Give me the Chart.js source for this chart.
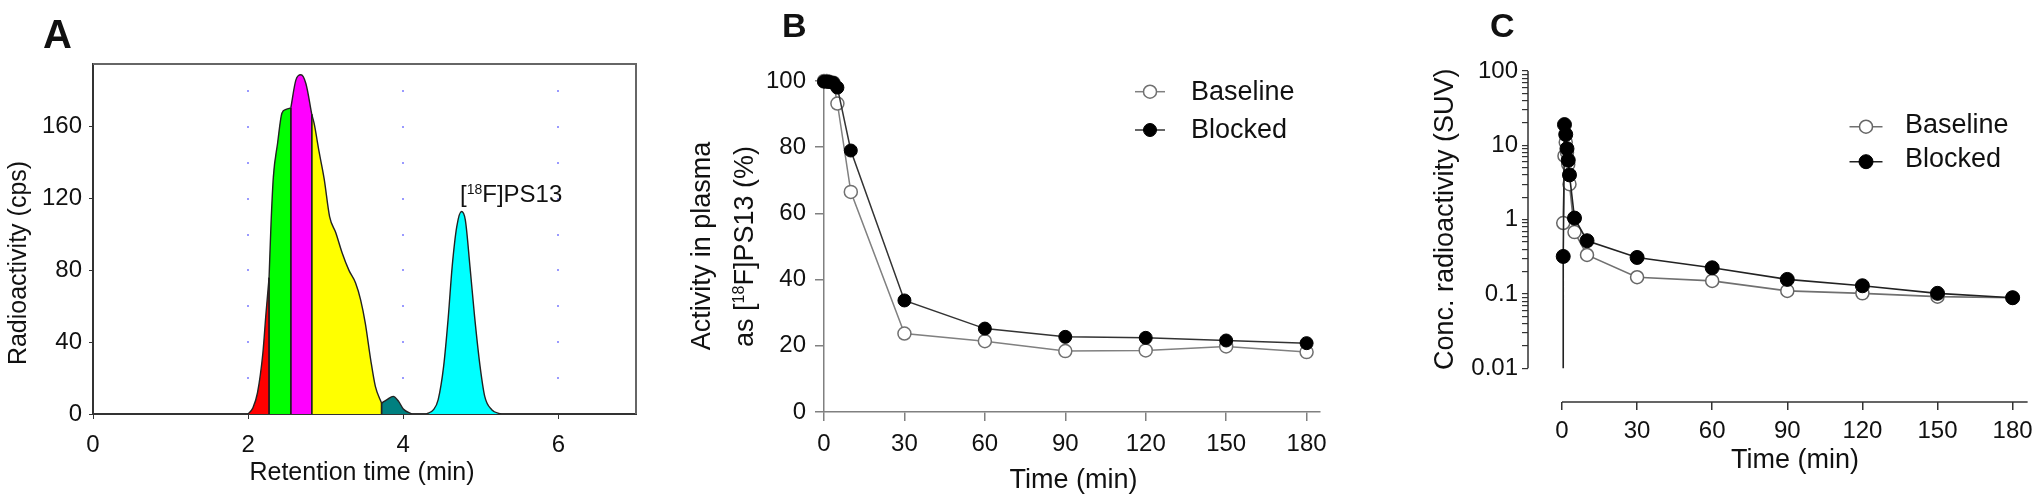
<!DOCTYPE html>
<html>
<head>
<meta charset="utf-8">
<script src="https://cdn.jsdelivr.net/npm/chart.js@4.4.1/dist/chart.umd.min.js"></script>
<style>
  html, body { margin: 0; padding: 0; background: #fff; }
  body { width: 2040px; height: 502px; position: relative; overflow: hidden; }
  canvas { position: absolute; top: 0; }
</style>
</head>
<body>
<canvas id="panelA" width="650" height="502" style="left:0px"></canvas>
<canvas id="panelB" width="710" height="502" style="left:650px"></canvas>
<canvas id="panelC" width="680" height="502" style="left:1360px"></canvas>
<script>
// ---- A: radio-HPLC chromatogram ----
const retentionTime = [2.00, 2.06, 2.12, 2.19, 2.23, 2.27, 2.295, 2.325, 2.38, 2.435, 2.49, 2.55,
  2.615, 2.68, 2.745, 2.82, 2.85, 2.915, 2.98, 3.05, 3.13, 3.21, 3.30, 3.385, 3.45, 3.51, 3.58, 3.64, 3.72,
  3.79, 3.87, 3.94, 4.00, 4.11, 4.30, 4.39, 4.45, 4.52, 4.58, 4.63, 4.69, 4.75, 4.80, 4.86, 4.92, 4.99, 5.05, 5.14, 5.26];
const radioactivity = [0, 3.3, 11.7, 34, 56, 76, 106, 132, 151, 167.5, 169.7, 170.5,
  186, 189, 184, 167, 162, 146, 131, 110, 101, 90, 80, 73, 63.6, 50.6, 30.2, 15.4, 6.1,
  8, 9.8, 7, 2.8, 0, 0, 2.4, 8, 26.5, 54, 82, 104.5, 112.8, 108, 82, 54, 26.5, 9.8, 2.4, 0];
const fractionStart = [2.00, 2.27, 2.55, 2.82, 3.72, 4.30];
const fractionEnd = [2.27, 2.55, 2.82, 3.72, 4.11, 5.26];
const fractionColors = ['#ff0000', '#00ff00', '#ff00ff', '#ffff00', '#008080', '#00ffff'];
const aTimeTicks = [0, 2, 4, 6];
const aCountTicks = [0, 40, 80, 120, 160];
const aDotRows = [20, 40, 60, 80, 100, 120, 140, 160, 180];

// ---- B: parent fraction in plasma ----
const bTime = [0, 1, 2, 3.5, 5, 10, 30, 60, 90, 120, 150, 180];
const bBaseline = [100, 100, 99.8, 99.5, 93.2, 66.5, 23.7, 21.4, 18.4, 18.6, 19.8, 18.1];
const bBlocked = [99.8, 99.8, 99.7, 99.4, 98.0, 79.0, 33.7, 25.2, 22.7, 22.4, 21.6, 20.8];
const bTimeTicks = [0, 30, 60, 90, 120, 150, 180];
const bPctTicks = [0, 20, 40, 60, 80, 100];

// ---- C: plasma radioactivity (SUV) ----
const cTimeBaseline = [0.5, 1, 1.5, 2, 2.5, 3, 5, 10, 30, 60, 90, 120, 150, 180];
const cBaseline = [0.9, 7.2, 11, 8, 5.5, 3.0, 0.68, 0.335, 0.168, 0.15, 0.11, 0.102, 0.092, 0.089];
const cTimeBlocked = [0.5, 0.5, 1, 1.5, 2, 2.5, 3, 5, 10, 30, 60, 90, 120, 150, 180];
const cBlocked = [0.01, 0.32, 19, 14, 9, 6.3, 4.0, 1.05, 0.52, 0.31, 0.225, 0.157, 0.129, 0.102, 0.089];
const cTimeTicks = [0, 30, 60, 90, 120, 150, 180];
const cSuvTicks = [0.01, 0.1, 1, 10, 100];

const FONT = "'Liberation Sans', Arial, sans-serif";
Chart.defaults.font.family = FONT;
Chart.defaults.color = '#111';

const pts = (xs, ys) => xs.map((x, i) => ({ x: x, y: ys[i] }));
const fixTicks = list => scale => { scale.ticks = list.map(v => ({ value: v })); };

// free text, with optional superscript parts
const panelText = {
  id: 'panelText',
  afterDraw(chart, args, opts) {
    const ctx = chart.ctx;
    (opts.items || []).forEach(it => {
      ctx.save();
      ctx.fillStyle = '#111';
      ctx.translate(it.x, it.y);
      if (it.rotate) ctx.rotate(it.rotate);
      const parts = Array.isArray(it.text) ? it.text : [[it.text, 0]];
      const fontFor = sup => (it.bold ? 'bold ' : '') + (sup ? Math.round(it.size * 0.6) : it.size) + 'px ' + FONT;
      let total = 0;
      parts.forEach(p => { ctx.font = fontFor(p[1]); total += ctx.measureText(p[0]).width; });
      let x = it.align === 'center' ? -total / 2 : 0;
      ctx.textAlign = 'left';
      ctx.textBaseline = 'alphabetic';
      parts.forEach(p => {
        ctx.font = fontFor(p[1]);
        ctx.fillText(p[0], x, p[1] ? -it.size * 0.35 : 0);
        x += ctx.measureText(p[0]).width;
      });
      ctx.restore();
    });
  }
};

// legend with line + marker, like the Prism legend
const seriesKey = {
  id: 'seriesKey',
  afterDraw(chart, args, opts) {
    const ctx = chart.ctx;
    (opts.items || []).forEach(it => {
      const ds = chart.data.datasets[it.ds];
      const r = Array.isArray(ds.pointRadius) ? ds.pointRadius[ds.pointRadius.length - 1] : ds.pointRadius;
      ctx.save();
      ctx.strokeStyle = ds.borderColor;
      ctx.lineWidth = ds.borderWidth;
      ctx.beginPath();
      ctx.moveTo(it.x - it.half, it.y);
      ctx.lineTo(it.x + it.half, it.y);
      ctx.stroke();
      ctx.beginPath();
      ctx.arc(it.x, it.y, r, 0, Math.PI * 2);
      ctx.fillStyle = ds.pointBackgroundColor;
      ctx.fill();
      ctx.lineWidth = ds.pointBorderWidth;
      ctx.strokeStyle = ds.pointBorderColor;
      ctx.stroke();
      ctx.fillStyle = '#111';
      ctx.font = it.size + 'px ' + FONT;
      ctx.textBaseline = 'alphabetic';
      ctx.fillText(ds.label, it.textX, it.textY);
      ctx.restore();
    });
  }
};

// A: box, dotted grid and fraction edges
const chromDecor = {
  id: 'chromDecor',
  beforeDatasetsDraw(chart) {
    const { ctx, chartArea: a, scales: { x, y } } = chart;
    ctx.save();
    ctx.fillStyle = '#9a9aff';
    [2, 4, 6].forEach(t => aDotRows.forEach(v => {
      ctx.fillRect(Math.round(x.getPixelForValue(t)) - 1, Math.round(y.getPixelForValue(v)) - 1, 2, 2);
    }));
    ctx.restore();
  },
  afterDatasetsDraw(chart) {
    const { ctx, chartArea: a, scales: { x, y } } = chart;
    ctx.save();
    ctx.strokeStyle = '#222';
    ctx.lineWidth = 1.4;
    fractionStart.concat(fractionEnd).forEach(edge => {
      const k = retentionTime.findIndex(t => Math.abs(t - edge) < 1e-9);
      if (k < 0 || radioactivity[k] <= 0) return;
      const px = x.getPixelForValue(edge);
      ctx.beginPath();
      ctx.moveTo(px, y.getPixelForValue(0));
      ctx.lineTo(px, y.getPixelForValue(radioactivity[k]));
      ctx.stroke();
    });
    ctx.strokeStyle = '#666';
    ctx.lineWidth = 2;
    ctx.beginPath();
    ctx.moveTo(a.left, a.top);
    ctx.lineTo(a.right, a.top);
    ctx.lineTo(a.right, a.bottom);
    ctx.stroke();
    ctx.restore();
  }
};

// C: detached axes (y stops at 0.01, x starts at 0)
const offsetAxes = {
  id: 'offsetAxes',
  afterDraw(chart) {
    const { ctx, chartArea: a, scales: { x, y } } = chart;
    ctx.save();
    ctx.strokeStyle = '#333';
    ctx.lineWidth = 1.5;
    ctx.beginPath();
    ctx.moveTo(a.left, y.getPixelForValue(100));
    ctx.lineTo(a.left, y.getPixelForValue(0.01));
    ctx.moveTo(x.getPixelForValue(0), a.bottom);
    ctx.lineTo(a.right, a.bottom);
    ctx.stroke();
    ctx.restore();
  }
};

// Chart A
new Chart(document.getElementById('panelA'), {
  type: 'line',
  data: {
    datasets: fractionStart.map((s, i) => ({
      data: pts(retentionTime, radioactivity).filter(p => p.x >= s - 1e-9 && p.x <= fractionEnd[i] + 1e-9),
      borderColor: '#222',
      borderWidth: 1.4,
      backgroundColor: fractionColors[i],
      fill: 'origin',
      pointRadius: 0,
      cubicInterpolationMode: 'monotone'
    }))
  },
  options: {
    responsive: false,
    animation: false,
    layout: { padding: { left: 0, right: 14, top: 64, bottom: 28 } },
    plugins: {
      legend: { display: false },
      tooltip: { enabled: false },
      panelText: {
        items: [
          { text: 'A', x: 43, y: 48, size: 40, bold: true },
          { text: 'Radioactivity (cps)', x: 26, y: 263, size: 25, rotate: -Math.PI / 2, align: 'center' },
          { text: 'Retention time (min)', x: 362, y: 480, size: 25, align: 'center' },
          { text: [['[', 0], ['18', 1], ['F]PS13', 0]], x: 460, y: 202, size: 24 }
        ]
      }
    },
    scales: {
      x: {
        type: 'linear', min: 0, max: 7,
        afterBuildTicks: fixTicks(aTimeTicks),
        afterFit: s => { s.height = 60; },
        ticks: { font: { size: 24 }, padding: 12, maxRotation: 0 },
        grid: { drawOnChartArea: false, tickLength: 5, color: '#333' },
        border: { color: '#333', width: 2 }
      },
      y: {
        min: 0, max: 195,
        afterBuildTicks: fixTicks(aCountTicks),
        afterFit: s => { s.width = 93; },
        ticks: { font: { size: 24 }, padding: 7 },
        grid: { drawOnChartArea: false, tickLength: 4, color: '#333' },
        border: { color: '#333', width: 2 }
      }
    }
  },
  plugins: [chromDecor, panelText]
});

// Chart B
new Chart(document.getElementById('panelB'), {
  type: 'line',
  data: {
    datasets: [
      {
        label: 'Baseline', data: pts(bTime, bBaseline), order: 2,
        borderColor: '#808080', borderWidth: 1.5, tension: 0, clip: false,
        pointRadius: 6.5, pointBackgroundColor: '#fff', pointBorderColor: '#707070', pointBorderWidth: 1.5
      },
      {
        label: 'Blocked', data: pts(bTime, bBlocked), order: 1,
        borderColor: '#333', borderWidth: 1.5, tension: 0, clip: false,
        pointRadius: 6.5, pointBackgroundColor: '#000', pointBorderColor: '#000', pointBorderWidth: 1
      }
    ]
  },
  options: {
    responsive: false,
    animation: false,
    layout: { padding: { left: 0, right: 40, top: 81, bottom: 30 } },
    plugins: {
      legend: { display: false },
      tooltip: { enabled: false },
      panelText: {
        items: [
          { text: 'B', x: 132, y: 37, size: 34, bold: true },
          { text: 'Activity in plasma', x: 60, y: 246, size: 27, rotate: -Math.PI / 2, align: 'center' },
          { text: [['as [', 0], ['18', 1], ['F]PS13 (%)', 0]], x: 103, y: 246.5, size: 27, rotate: -Math.PI / 2, align: 'center' },
          { text: 'Time (min)', x: 423.5, y: 488, size: 27, align: 'center' }
        ]
      },
      seriesKey: {
        items: [
          { ds: 0, x: 500, y: 91.7, half: 15, textX: 541, textY: 100, size: 27 },
          { ds: 1, x: 500, y: 130, half: 15, textX: 541, textY: 138.3, size: 27 }
        ]
      }
    },
    scales: {
      x: {
        type: 'linear', min: 0, max: 185,
        afterBuildTicks: fixTicks(bTimeTicks),
        afterFit: s => { s.height = 60; },
        ticks: { font: { size: 24 }, padding: 9, maxRotation: 0 },
        grid: { drawOnChartArea: false, tickLength: 9, color: '#808080', lineWidth: 1.5 },
        border: { color: '#808080', width: 1.5 }
      },
      y: {
        min: 0, max: 100,
        afterBuildTicks: fixTicks(bPctTicks),
        afterFit: s => { s.width = 174; },
        ticks: { font: { size: 24 }, padding: 9 },
        grid: { drawOnChartArea: false, tickLength: 9, color: '#808080', lineWidth: 1.5 },
        border: { color: '#808080', width: 1.5 }
      }
    }
  },
  plugins: [panelText, seriesKey]
});

// Chart C
const cMinorTicks = [];
[0.01, 0.1, 1, 10].forEach(d => { for (let m = 2; m <= 9; m++) cMinorTicks.push(+(d * m).toPrecision(3)); });

new Chart(document.getElementById('panelC'), {
  type: 'line',
  data: {
    datasets: [
      {
        label: 'Baseline', data: pts(cTimeBaseline, cBaseline), order: 2,
        borderColor: '#707070', borderWidth: 1.6, tension: 0, clip: false,
        pointRadius: 6.5, pointBackgroundColor: '#fff', pointBorderColor: '#666', pointBorderWidth: 1.5
      },
      {
        label: 'Blocked', data: pts(cTimeBlocked, cBlocked), order: 1,
        borderColor: '#222', borderWidth: 1.6, tension: 0, clip: false,
        pointRadius: cBlocked.map((v, i) => (i === 0 ? 0 : 7)),
        pointBackgroundColor: '#000', pointBorderColor: '#000', pointBorderWidth: 1
      }
    ]
  },
  options: {
    responsive: false,
    animation: false,
    layout: { padding: { left: 0, right: 12, top: 71, bottom: 40 } },
    plugins: {
      legend: { display: false },
      tooltip: { enabled: false },
      panelText: {
        items: [
          { text: 'C', x: 130, y: 37, size: 34, bold: true },
          { text: 'Conc. radioactivity (SUV)', x: 92.7, y: 219.2, size: 27, rotate: -Math.PI / 2, align: 'center' },
          { text: 'Time (min)', x: 435, y: 468, size: 27, align: 'center' }
        ]
      },
      seriesKey: {
        items: [
          { ds: 0, x: 506, y: 126.7, half: 16.5, textX: 545, textY: 133.3, size: 27 },
          { ds: 1, x: 506, y: 161.7, half: 16.5, textX: 545, textY: 166.7, size: 27 }
        ]
      }
    },
    scales: {
      x: {
        type: 'linear', min: -13.57, max: 186,
        afterBuildTicks: fixTicks(cTimeTicks),
        afterFit: s => { s.height = 60; },
        ticks: { font: { size: 24 }, padding: 7, maxRotation: 0 },
        grid: { drawOnChartArea: false, tickLength: 8, color: '#333', lineWidth: 1.5 },
        border: { display: false }
      },
      y: {
        type: 'logarithmic', min: 0.00352, max: 100,
        afterBuildTicks: s => { s.ticks = cSuvTicks.concat(cMinorTicks).sort((p, q) => p - q).map(v => ({ value: v })); },
        afterFit: s => { s.width = 168; },
        ticks: {
          font: { size: 24 }, padding: 4, autoSkip: false,
          callback: v => (cSuvTicks.includes(v) ? String(v) : '')
        },
        grid: { drawOnChartArea: false, tickLength: 6, color: '#333', lineWidth: 1.2 },
        border: { display: false }
      }
    }
  },
  plugins: [offsetAxes, panelText, seriesKey]
});
</script>
</body>
</html>
